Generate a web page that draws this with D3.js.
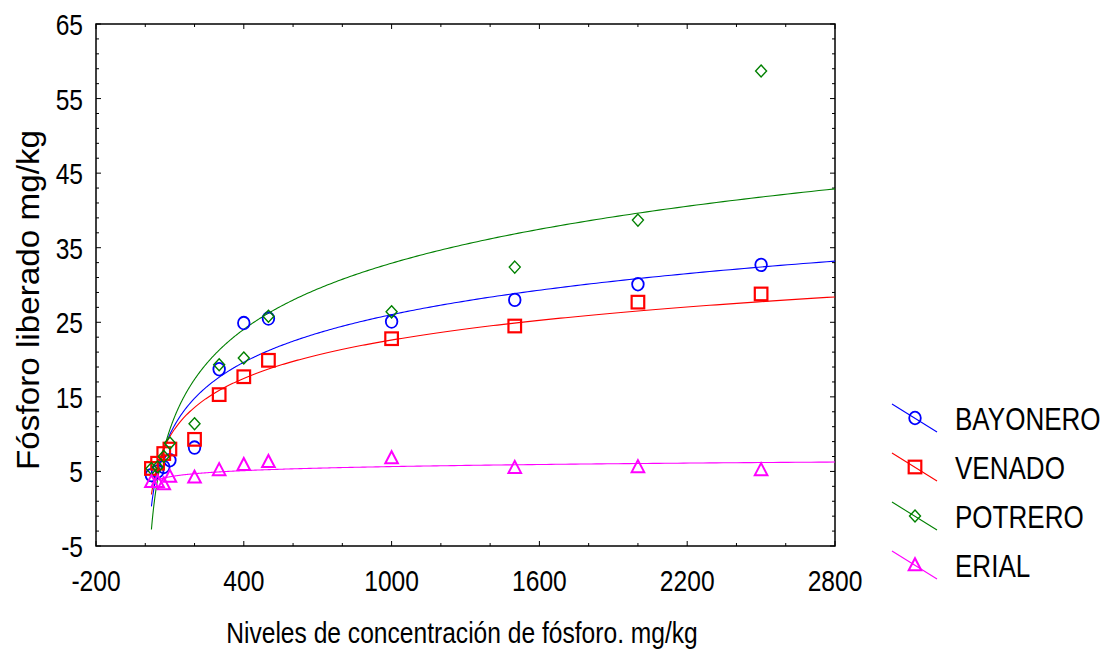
<!DOCTYPE html>
<html>
<head>
<meta charset="utf-8">
<script src="https://cdn.jsdelivr.net/npm/d3@7"></script>
<style>
  body { margin: 0; background: #fff; }
  text { font-family: "Liberation Sans", Arial, sans-serif; fill: #000; }
</style>
</head>
<body>
<div id="chart"></div>
<script>
// concentration levels (mg/kg)
const levels = [25, 50, 75, 100, 200, 300, 400, 500, 1000, 1500, 2000, 2500];

// phosphorus released, mg/kg
const bayonero = [4.5, 5.0, 5.6, 6.5, 8.2, 18.7, 24.9, 25.5, 25.1, 28.0, 30.1, 32.7];
const venado   = [5.4, 6.1, 7.4, 8.0, 9.3, 15.3, 17.7, 19.9, 22.8, 24.5, 27.7, 28.8];
const potrero  = [5.4, 5.6, 7.0, 8.8, 11.4, 19.3, 20.2, 25.8, 26.4, 32.4, 38.7, 58.7];
const erial    = [3.6, 3.6, 3.3, 4.3, 4.2, 5.2, 5.9, 6.3, 6.8, 5.5, 5.6, 5.2];

const seriesNames = ["BAYONERO", "VENADO", "POTRERO", "ERIAL"];
const seriesColors = ["#0000ff", "#ff0000", "#008000", "#ff00ff"];
const seriesShapes = ["circle", "square", "diamond", "triangle"];

const xTicks = [-200, 400, 1000, 1600, 2200, 2800];
const yTicks = [-5, 5, 15, 25, 35, 45, 55, 65];

const width = 1101, height = 649;
const margin = { top: 24, right: 266, bottom: 103, left: 96 };
const w = width - margin.left - margin.right;
const h = height - margin.top - margin.bottom;
const narrow = 0.82; // no Arial Narrow installed, squeeze Liberation Sans instead

const svg = d3.select("#chart").append("svg")
  .attr("width", width)
  .attr("height", height);

const x = d3.scaleLinear().domain([-200, 2800]).range([0, w]);
const y = d3.scaleLinear().domain([-5, 65]).range([h, 0]);

const g = svg.append("g").attr("transform", `translate(${margin.left},${margin.top})`);

// least squares fit y = a + b*ln(x)
const logFit = (xs, ys) => {
  const lx = xs.map(Math.log);
  const mx = d3.mean(lx), my = d3.mean(ys);
  let sxy = 0, sxx = 0;
  lx.forEach((v, i) => { sxy += (v - mx) * (ys[i] - my); sxx += (v - mx) ** 2; });
  const b = sxy / sxx;
  return { a: my - b * mx, b: b };
};

const series = [bayonero, venado, potrero, erial].map((vals, i) => ({
  name: seriesNames[i],
  color: seriesColors[i],
  shape: seriesShapes[i],
  points: levels.map((lv, j) => ({ x: lv, y: vals[j] })),
  fit: logFit(levels, vals)
}));

// minor/major ticks, inward on all four sides
const xMinor = d3.range(-200, 2801, 200);
const yMinor = d3.range(-5, 65.01, 2);
const ticks = g.append("g").attr("stroke", "#000").attr("stroke-width", 1);
xMinor.forEach(v => {
  const len = xTicks.includes(v) ? 5 : 3;
  ticks.append("line").attr("x1", x(v)).attr("x2", x(v)).attr("y1", h).attr("y2", h - len);
  ticks.append("line").attr("x1", x(v)).attr("x2", x(v)).attr("y1", 0).attr("y2", len);
});
yMinor.forEach(v => {
  const len = yTicks.includes(Math.round(v)) ? 5 : 3;
  ticks.append("line").attr("y1", y(v)).attr("y2", y(v)).attr("x1", 0).attr("x2", len);
  ticks.append("line").attr("y1", y(v)).attr("y2", y(v)).attr("x1", w).attr("x2", w - len);
});

g.append("rect")
  .attr("width", w).attr("height", h)
  .attr("fill", "none").attr("stroke", "#000").attr("stroke-width", 1.5);

// tick labels
g.append("g").selectAll("text").data(xTicks).join("text")
  .attr("transform", d => `translate(${x(d)},${h + 45}) scale(${narrow},1)`)
  .attr("text-anchor", "middle").attr("font-size", 30)
  .text(d => d);
g.append("g").selectAll("text").data(yTicks).join("text")
  .attr("transform", d => `translate(-13,${y(d) + 11}) scale(${narrow},1)`)
  .attr("text-anchor", "end").attr("font-size", 30)
  .text(d => d);

// axis titles
svg.append("text")
  .attr("transform", `translate(462,643) scale(${narrow},1)`)
  .attr("text-anchor", "middle").attr("font-size", 30)
  .text("Niveles de concentración de fósforo. mg/kg");
svg.append("text")
  .attr("transform", "translate(39,300) rotate(-90)")
  .attr("text-anchor", "middle").attr("font-size", 32)
  .attr("textLength", 340).attr("lengthAdjust", "spacingAndGlyphs")
  .text("Fósforo liberado mg/kg");

const marker = (sel, shape, color) => {
  if (shape === "circle") {
    sel.append("ellipse").attr("rx", 5.8).attr("ry", 6.3)
      .attr("fill", "none").attr("stroke", color).attr("stroke-width", 1.8);
  } else if (shape === "square") {
    sel.append("rect").attr("x", -6.3).attr("y", -6.3).attr("width", 12.6).attr("height", 12.6)
      .attr("fill", "none").attr("stroke", color).attr("stroke-width", 2.2);
  } else if (shape === "diamond") {
    sel.append("path").attr("d", "M0,-6L5.5,0L0,6L-5.5,0Z")
      .attr("fill", "none").attr("stroke", color).attr("stroke-width", 1.4);
  } else {
    sel.append("path").attr("d", "M0,-6.8L6.3,5.2L-6.3,5.2Z")
      .attr("fill", "none").attr("stroke", color).attr("stroke-width", 2);
  }
};

// fitted curves
const line = d3.line().x(d => x(d[0])).y(d => y(d[1]));
const sampleX = d3.range(0, 401).map(i => 25 * Math.pow(2800 / 25, i / 400));
g.append("g").selectAll("path").data(series).join("path")
  .attr("d", s => line(sampleX.map(v => [v, s.fit.a + s.fit.b * Math.log(v)])))
  .attr("fill", "none").attr("stroke", s => s.color).attr("stroke-width", 1.1);

// points
series.forEach(s => {
  g.append("g").selectAll("g").data(s.points).join("g")
    .attr("transform", d => `translate(${x(d.x)},${y(d.y)})`)
    .each(function () { marker(d3.select(this), s.shape, s.color); });
});

// legend
const legend = svg.append("g").attr("transform", "translate(892,404)");
series.forEach((s, i) => {
  const it = legend.append("g").attr("transform", `translate(0,${i * 49})`);
  it.append("line").attr("x1", 0).attr("y1", 0).attr("x2", 45).attr("y2", 28)
    .attr("stroke", s.color).attr("stroke-width", 1.1);
  const m = it.append("g").attr("transform", "translate(23,14)");
  marker(m, s.shape, s.color);
  it.append("text")
    .attr("transform", `translate(63,26) scale(${narrow + 0.02},1)`)
    .attr("font-size", 31).text(s.name);
});
</script>
</body>
</html>
